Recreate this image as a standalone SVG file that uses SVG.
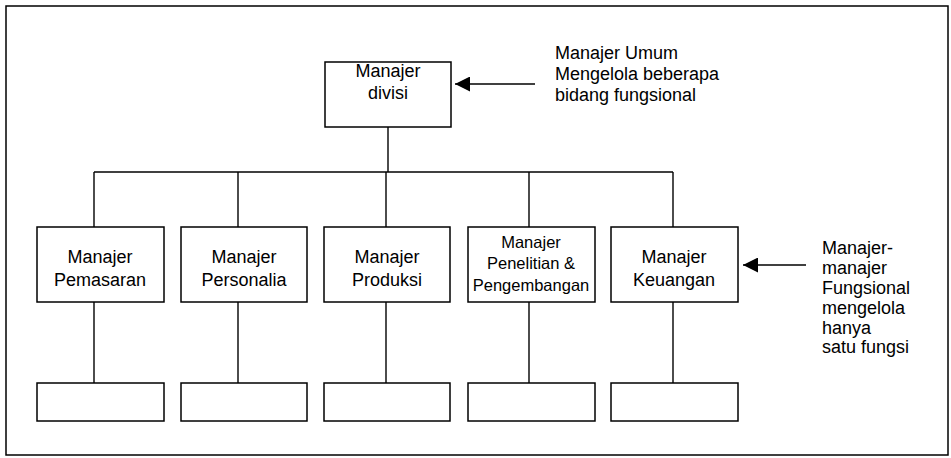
<svg xmlns="http://www.w3.org/2000/svg" width="951" height="458" viewBox="0 0 951 458">
<style>
.box{fill:#fff;stroke:#000;stroke-width:1.5}
.ln{stroke:#000;stroke-width:1.4;fill:none}
text{font-family:"Liberation Sans",Arial,sans-serif;font-size:18px;fill:#000}
.c{text-anchor:middle}
.s{font-size:16.5px}
</style>
<defs>
<marker id="ah" viewBox="0 0 10 10" refX="10" refY="5" markerWidth="21" markerHeight="15" markerUnits="userSpaceOnUse" orient="auto">
<path d="M0,0 L10,5 L0,10 z" fill="#000"/>
</marker>
</defs>
<rect x="6" y="6" width="942" height="449" fill="none" stroke="#000" stroke-width="1.5"/>
<g id="connectors">
<line class="ln" x1="388" y1="127" x2="388" y2="172"/>
<line class="ln" x1="94" y1="172" x2="673" y2="172"/>
<line class="ln" x1="94" y1="172" x2="94" y2="227"/>
<line class="ln" x1="238" y1="172" x2="238" y2="227"/>
<line class="ln" x1="386" y1="172" x2="386" y2="227"/>
<line class="ln" x1="529" y1="172" x2="529" y2="227"/>
<line class="ln" x1="673" y1="172" x2="673" y2="227"/>
<line class="ln" x1="94" y1="302" x2="94" y2="383"/>
<line class="ln" x1="238" y1="302" x2="238" y2="383"/>
<line class="ln" x1="386" y1="302" x2="386" y2="383"/>
<line class="ln" x1="529" y1="302" x2="529" y2="383"/>
<line class="ln" x1="673" y1="302" x2="673" y2="383"/>
<line class="ln" x1="535" y1="84" x2="455" y2="84" marker-end="url(#ah)"/>
<line class="ln" x1="806" y1="265" x2="743" y2="265" marker-end="url(#ah)"/>
</g>
<g id="n-divisi"><rect class="box" x="325" y="62" width="126" height="65"/>
<text class="c" x="388" y="77">Manajer</text><text class="c" x="388" y="99">divisi</text></g>
<g id="note-umum"><text x="555" y="59">Manajer Umum</text><text x="555" y="80">Mengelola beberapa</text><text x="555" y="101">bidang fungsional</text></g>
<g id="n-pemasaran"><rect class="box" x="37" y="227" width="127" height="75"/>
<text class="c" x="100" y="263">Manajer</text><text class="c" x="100" y="286">Pemasaran</text></g>
<g id="n-personalia"><rect class="box" x="181" y="227" width="126" height="75"/>
<text class="c" x="244" y="263">Manajer</text><text class="c" x="244" y="286">Personalia</text></g>
<g id="n-produksi"><rect class="box" x="324" y="227" width="126" height="75"/>
<text class="c" x="387" y="263">Manajer</text><text class="c" x="387" y="286">Produksi</text></g>
<g id="n-litbang"><rect class="box" x="468" y="227" width="127" height="75"/>
<text class="c s" x="531" y="248">Manajer</text><text class="c s" x="531" y="269">Penelitian &amp;</text><text class="c s" x="531" y="291">Pengembangan</text></g>
<g id="n-keuangan"><rect class="box" x="611" y="227" width="127" height="75"/>
<text class="c" x="674" y="263">Manajer</text><text class="c" x="674" y="286">Keuangan</text></g>
<g id="note-fungsional"><text x="822" y="254">Manajer-</text><text x="822" y="274">manajer</text><text x="822" y="294">Fungsional</text><text x="822" y="314">mengelola</text><text x="822" y="334">hanya</text><text x="822" y="353">satu fungsi</text></g>
<g id="b1"><rect class="box" x="37" y="383" width="127" height="38"/></g>
<g id="b2"><rect class="box" x="181" y="383" width="126" height="38"/></g>
<g id="b3"><rect class="box" x="324" y="383" width="126" height="38"/></g>
<g id="b4"><rect class="box" x="468" y="383" width="127" height="38"/></g>
<g id="b5"><rect class="box" x="611" y="383" width="127" height="38"/></g>
</svg>
